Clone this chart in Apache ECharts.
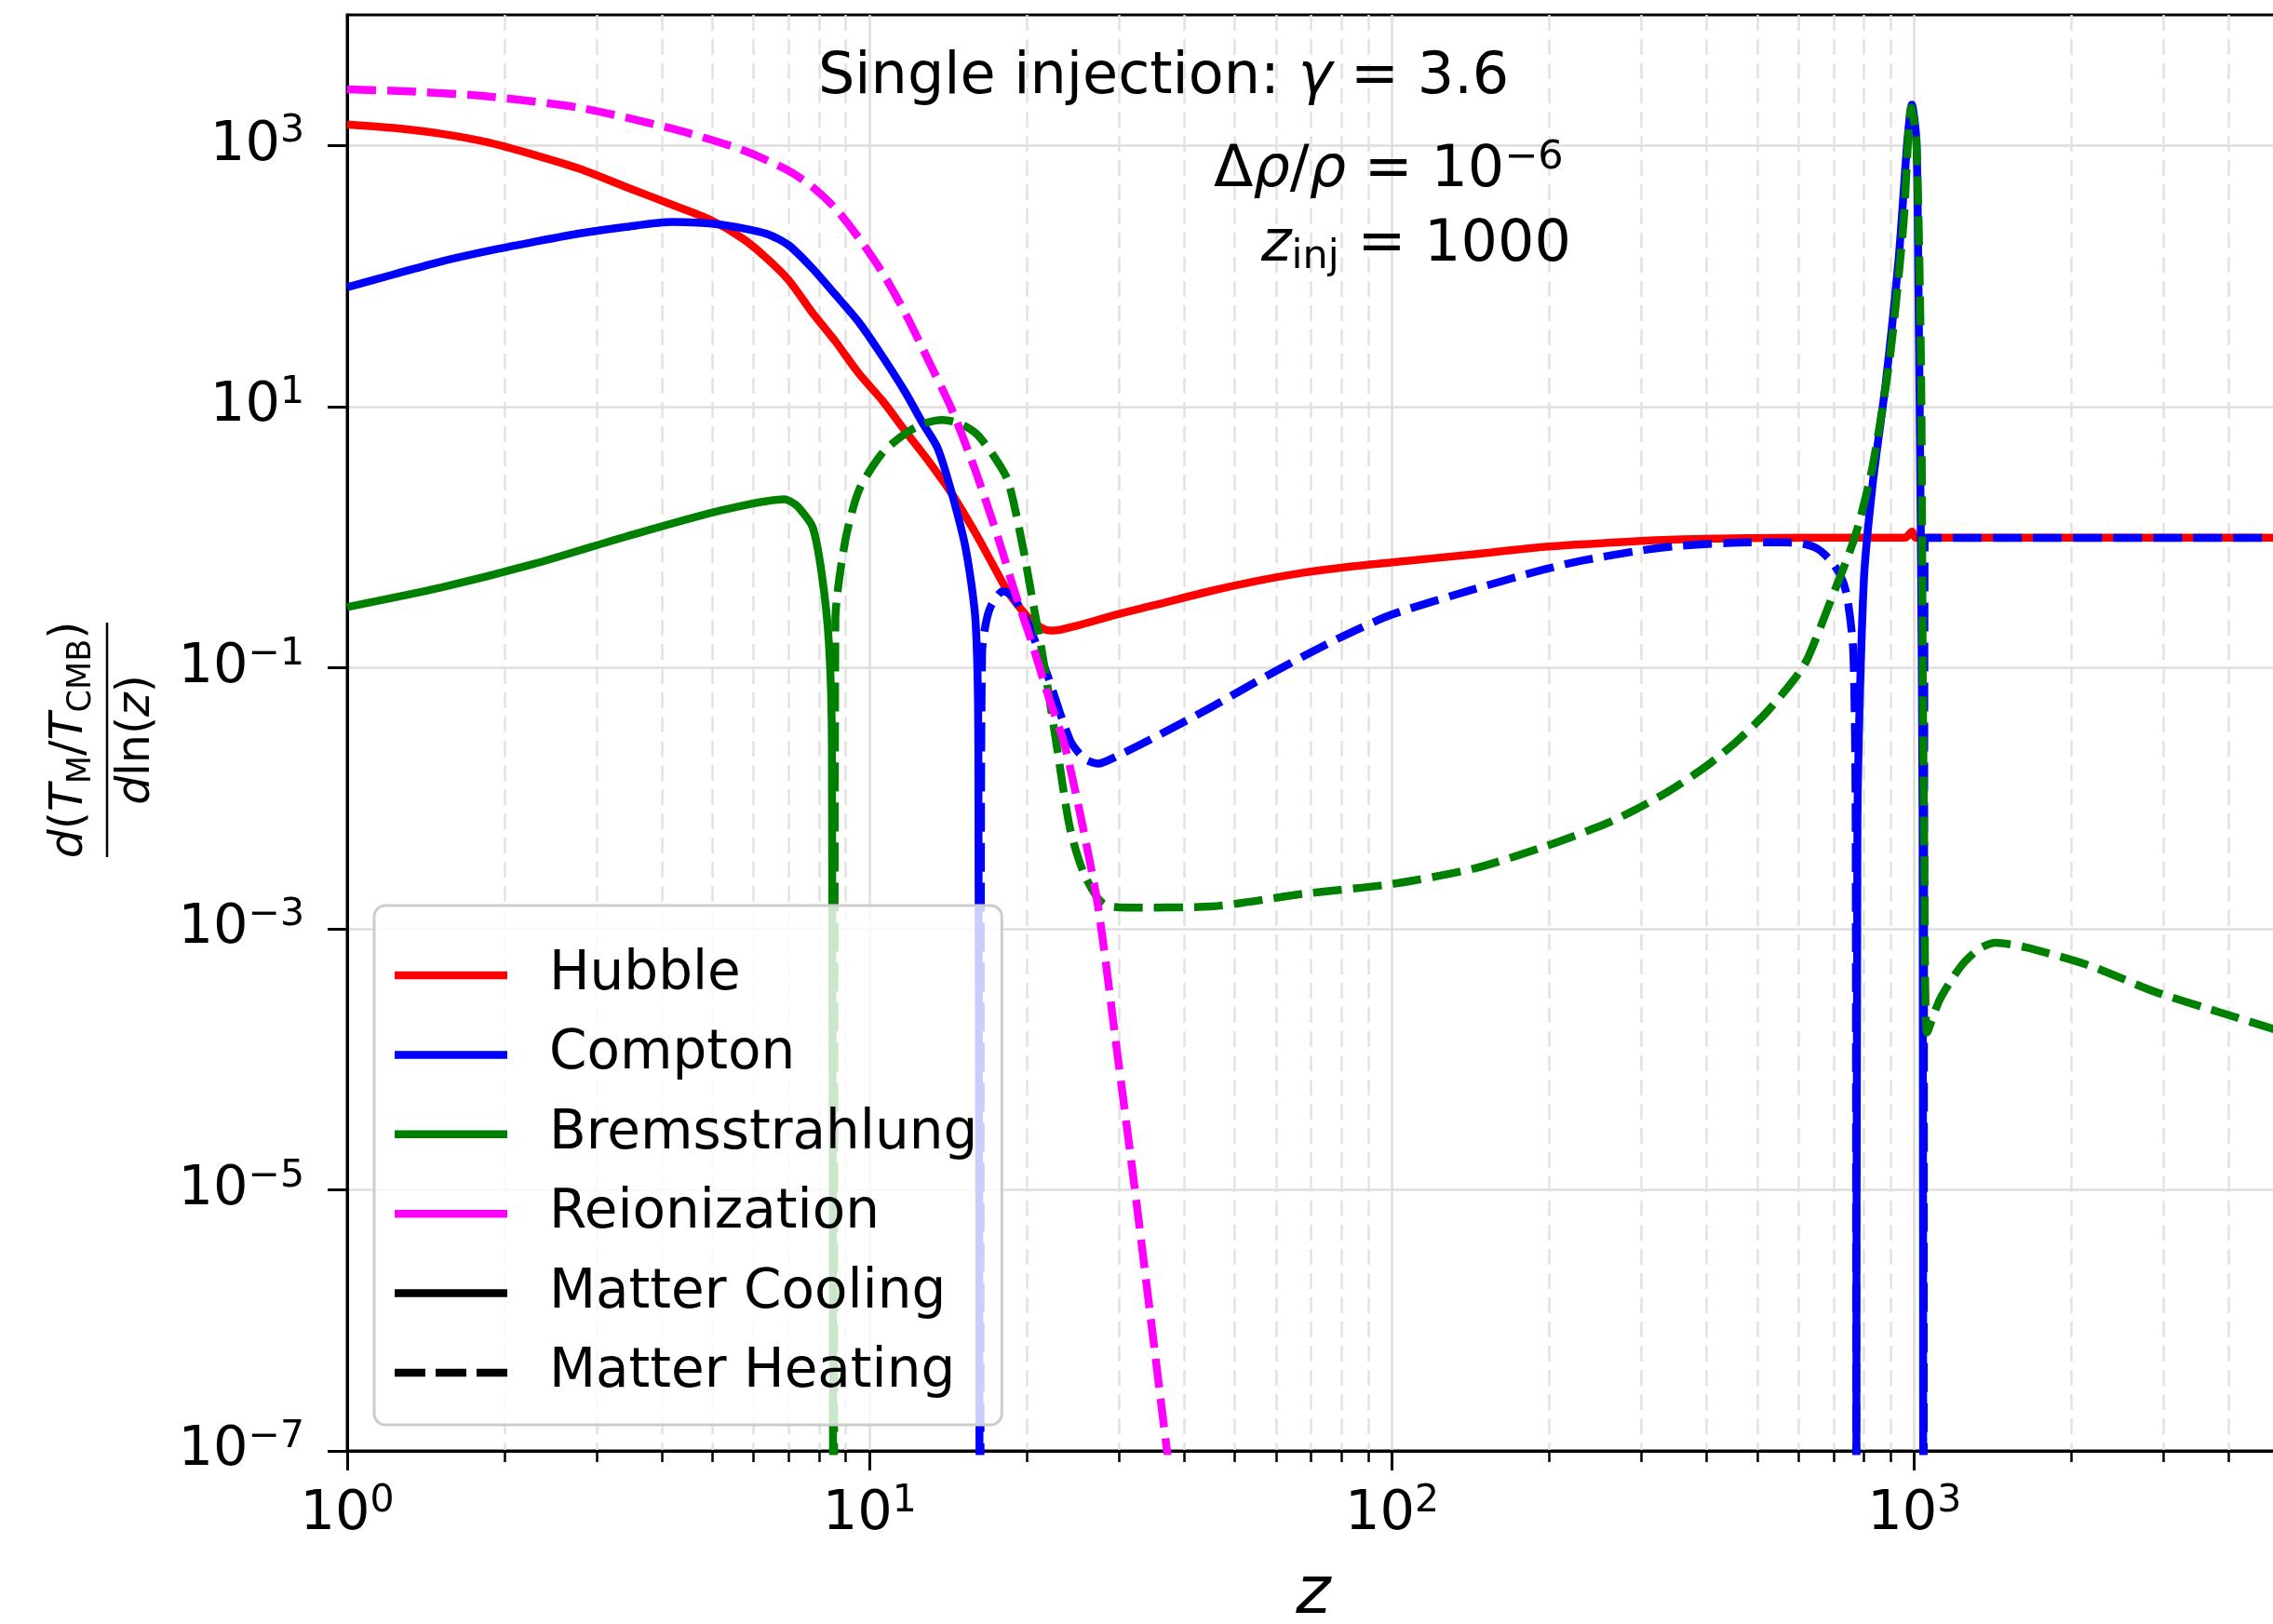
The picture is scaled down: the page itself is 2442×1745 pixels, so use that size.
<!DOCTYPE html>
<html>
<head>
<meta charset="utf-8">
<script src="https://cdn.jsdelivr.net/npm/echarts@6/dist/echarts.min.js"></script>
<style>
  html, body { margin: 0; padding: 0; background: #ffffff; }
  #chart { width: 2442px; height: 1745px; }
</style>
</head>
<body>
<div id="chart"></div>
<script>
// Tick positions
const xMajorTicks = [1, 10, 100, 1000];
const xMinorTicks = [2, 3, 4, 5, 6, 7, 8, 9,
                     20, 30, 40, 50, 60, 70, 80, 90,
                     200, 300, 400, 500, 600, 700, 800, 900,
                     2000, 3000, 4000, 5000];
const yMajorTicks = [1e-7, 1e-5, 1e-3, 1e-1, 1e1, 1e3];

// Curves: [z, d(T_M/T_CMB)/dln(z)]
const hubbleCooling = [
  [1, 1450], [1.23, 1360], [1.51, 1230], [1.85, 1060], [2.27, 850], [2.79, 660],
  [3.42, 480], [4.2, 350], [4.95, 270], [5.7, 195], [6.3, 141], [7.0, 93],
  [7.78, 52], [8.6, 31.6], [9.55, 17.8], [10.6, 11], [11.7, 6.5], [13.0, 3.77],
  [14.4, 2.12], [16.0, 1.05], [17.2, 0.62], [18.4, 0.38], [19.5, 0.28], [20.4, 0.23],
  [21.7, 0.195], [22.5, 0.192], [25, 0.21], [29.7, 0.255], [35, 0.30], [44.8, 0.385],
  [55, 0.46], [67.6, 0.533], [82, 0.59], [100, 0.64], [144, 0.74], [194, 0.84],
  [280, 0.92], [360, 0.96], [480, 0.98], [623, 0.99], [960, 0.99], [990, 1.1],
  [1005, 0.99], [5000, 0.99]
];

const comptonCoolingLow = [
  [1, 82], [1.23, 103], [1.51, 129], [1.85, 155], [2.27, 182], [2.79, 212],
  [3.42, 238], [4.2, 259], [5.16, 248], [6.34, 211], [7.0, 172], [7.78, 114],
  [8.6, 72], [9.55, 44], [10.6, 24], [11.7, 12.9], [12.6, 7.6], [13.5, 4.8],
  [14.4, 2.1], [15.3, 0.79], [15.95, 0.23], [16.15, 0.026], [16.25, 1e-9]
];
const comptonCoolingHigh = [
  [774, 1e-9], [778, 0.0065], [800, 0.45], [832, 2.54], [882, 15.5], [934, 142],
  [970, 1107], [989, 2050], [1009, 1100], [1018, 93], [1028, 1.55], [1037, 0.0065],
  [1040, 1e-9]
];

const comptonHeatingLow = [
  [16.3, 1e-9], [16.33, 1e-3], [16.42, 0.132], [16.7, 0.22], [17.1, 0.30], [18.0, 0.385],
  [18.75, 0.355], [20.1, 0.219], [21.9, 0.0877], [24.2, 0.0278], [25.8, 0.020],
  [27.4, 0.0184], [29.7, 0.0209], [35, 0.029], [44.9, 0.0493], [55, 0.078], [67.6, 0.122],
  [82, 0.18], [100, 0.255], [144, 0.40], [194, 0.56], [231, 0.66], [300, 0.79],
  [360, 0.86], [484, 0.91], [560, 0.91], [611, 0.89], [650, 0.82], [687, 0.68],
  [720, 0.52], [743, 0.355], [764, 0.132], [772, 0.0065], [774, 1e-9]
];
const comptonHeatingHigh = [
  [1042, 1e-9], [1046, 0.9], [1060, 0.985], [5000, 0.985]
];

const bremsCooling = [
  [1, 0.291], [1.51, 0.41], [2.27, 0.62], [3.42, 1.01], [5.16, 1.59], [6.88, 1.95],
  [7.05, 1.88], [7.3, 1.7], [7.78, 1.19], [8.1, 0.52], [8.36, 0.153], [8.47, 0.026],
  [8.52, 1e-9]
];

const bremsHeating = [
  [8.55, 1e-9], [8.6, 0.23], [8.98, 0.93], [9.55, 2.3], [10.6, 4.45], [11.7, 6.2],
  [12.7, 7.4], [13.8, 7.9], [14.9, 7.4], [16.0, 6.2], [17.2, 4.3], [18.4, 2.7],
  [19.7, 0.8], [20.5, 0.33], [21.4, 0.13], [22.8, 0.0257], [24.2, 0.00583],
  [25.8, 0.00257], [28.0, 0.00155], [31.0, 0.00145], [44.9, 0.00148], [67.6, 0.00185],
  [100, 0.0022], [144, 0.0029], [194, 0.0042], [255, 0.0063], [293, 0.0082],
  [341, 0.0115], [399, 0.0175], [456, 0.027], [520, 0.045], [587, 0.08], [623, 0.115],
  [686, 0.30], [771, 1.03], [832, 3.5], [899, 25], [953, 250], [986, 1950],
  [1009, 1100], [1030, 18], [1038, 0.065], [1045, 0.0038], [1058, 1.6e-4],
  [1120, 2.9e-4], [1230, 5.2e-4], [1330, 7.0e-4], [1430, 7.8e-4], [1633, 7.2e-4],
  [2170, 5.2e-4], [2880, 3.3e-4], [3830, 2.3e-4], [5000, 1.65e-4]
];

const reionHeating = [
  [1, 2690], [1.35, 2580], [1.85, 2380], [2.79, 1940], [4.2, 1340], [5.7, 925],
  [7.0, 640], [7.78, 480], [8.6, 330], [9.55, 194], [10.6, 105], [11.7, 52],
  [13.0, 22], [14.4, 9.3], [16.0, 3.1], [17.7, 0.93], [19.0, 0.37], [20.4, 0.16],
  [22.0, 0.06], [23.6, 0.026], [25.5, 0.0065], [27.4, 0.00145], [29.7, 1.23e-4],
  [32.3, 9.1e-6], [37.1, 1e-7], [40, 1e-8]
];

const legendNames = ['Hubble', 'Compton', 'Bremsstrahlung', 'Reionization',
                     'Matter Cooling', 'Matter Heating'];

const FONT = 'DejaVu Sans';
const RED = '#ff0000', BLUE = '#0000ff', GREEN = '#008000', MAGENTA = '#ff00ff';
const LW = 8.5;
const DASH = [31, 12];

function powerLabel(v) {
  const e = Math.round(Math.log10(v));
  return '{b|10}{s|' + (e < 0 ? '\u2212' + (-e) : e) + '}';
}
const tickRich = {
  b: { fontFamily: FONT, fontSize: 59, lineHeight: 70, color: '#000' },
  s: { fontFamily: FONT, fontSize: 41, lineHeight: 37, verticalAlign: 'top', color: '#000' }
};

function curve(name, data, color, dashed) {
  return {
    name: name, type: 'line', data: data, xAxisIndex: 0, yAxisIndex: 0,
    showSymbol: false, symbol: 'none', silent: true, clip: true,
    smooth: 0.25,
    lineStyle: { color: color, width: LW, type: dashed ? DASH : 'solid', cap: 'butt', join: 'round' },
    emphasis: { disabled: true }
  };
}
function legendEntry(name, color) {
  return {
    name: name, type: 'line', data: [], symbol: 'none',
    itemStyle: { color: color },
    lineStyle: { color: color, width: LW }
  };
}

// legend handles: a flat bar for solid lines, three short bars for dashed
const SOLID_ICON = 'rect';
const DASHED_ICON = 'path://M0,0H33V8.5H0Z M44,0H77V8.5H44Z M88,0H121V8.5H88Z';

const chart = echarts.init(document.getElementById('chart'), null, { renderer: 'canvas' });

const option = {
  backgroundColor: '#ffffff',
  animation: false,
  grid: {
    left: 373, top: 16, right: -7, bottom: 186,
    containLabel: false, outerBoundsMode: 'none',
    show: true, borderColor: '#000', borderWidth: 3, backgroundColor: 'transparent'
  },
  legend: {
    data: legendNames.map(function (n) {
      return { name: n, icon: n === 'Matter Heating' ? DASHED_ICON : SOLID_ICON };
    }),
    orient: 'vertical', left: 402, top: 973,
    itemWidth: 121, itemHeight: 8.5, itemGap: 23.4,
    padding: [44, 26, 25, 22],
    backgroundColor: 'rgba(255,255,255,0.8)',
    borderColor: '#cccccc', borderWidth: 3, borderRadius: 12,
    selectedMode: false,
    itemStyle: { borderWidth: 0 },
    textStyle: { fontFamily: FONT, fontSize: 58, lineHeight: 62, color: '#000', padding: [0, 0, 0, 40] }
  },
  xAxis: [
    {
      type: 'log', logBase: 10, min: 1, max: 5000, position: 'bottom',
      name: 'z', nameLocation: 'middle', nameGap: 120,
      nameTextStyle: { fontFamily: FONT, fontStyle: 'italic', fontSize: 71, color: '#000' },
      axisLine: { show: true, lineStyle: { color: '#000', width: 3 } },
      axisTick: { show: true, customValues: xMajorTicks, length: 21, lineStyle: { color: '#000', width: 3 } },
      axisLabel: { show: true, customValues: xMajorTicks, margin: 34, formatter: powerLabel, rich: tickRich },
      splitLine: { show: true, lineStyle: { color: '#dedede', width: 2.5, type: 'solid' } },
      minorTick: { show: false }, minorSplitLine: { show: false }
    },
    {
      type: 'log', logBase: 10, min: 1, max: 5000, position: 'bottom',
      axisLine: { show: false },
      axisTick: { show: true, customValues: xMinorTicks, length: 12, lineStyle: { color: '#000', width: 2.5 } },
      axisLabel: { show: false },
      splitLine: { show: true, lineStyle: { color: '#e2e2e2', width: 2.5, type: [17, 9] } }
    }
  ],
  yAxis: [
    {
      type: 'log', logBase: 10, min: 1e-7, max: 1e4,
      axisLine: { show: true, lineStyle: { color: '#000', width: 3 } },
      axisTick: { show: true, customValues: yMajorTicks, length: 21, lineStyle: { color: '#000', width: 3 } },
      axisLabel: { show: true, customValues: yMajorTicks, margin: 46, formatter: powerLabel, rich: tickRich },
      splitLine: { show: true, lineStyle: { color: '#dedede', width: 2.5, type: 'solid' } },
      minorTick: { show: false }, minorSplitLine: { show: false }
    }
  ],
  series: [
    curve('Hubble cooling', hubbleCooling, RED, false),
    curve('Compton cooling', comptonCoolingLow, BLUE, false),
    curve('Compton cooling (z_inj)', comptonCoolingHigh, BLUE, false),
    curve('Compton heating', comptonHeatingLow, BLUE, true),
    curve('Compton heating (z_inj)', comptonHeatingHigh, BLUE, true),
    curve('Bremsstrahlung cooling', bremsCooling, GREEN, false),
    curve('Bremsstrahlung heating', bremsHeating, GREEN, true),
    curve('Reionization heating', reionHeating, MAGENTA, true),
    legendEntry('Hubble', RED),
    legendEntry('Compton', BLUE),
    legendEntry('Bremsstrahlung', GREEN),
    legendEntry('Reionization', MAGENTA),
    legendEntry('Matter Cooling', '#000'),
    legendEntry('Matter Heating', '#000')
  ],
  graphic: [
    // annotation block
    {
      type: 'text', x: 879, y: 83.5, z: 50,
      style: {
        text: '{r|Single injection: }{i|\u03b3}{r| = 3.6}',
        verticalAlign: 'middle', align: 'left',
        rich: {
          r: { fontFamily: FONT, fontSize: 62, lineHeight: 70, color: '#000' },
          i: { fontFamily: FONT, fontStyle: 'italic', fontSize: 62, lineHeight: 70, color: '#000' }
        }
      }
    },
    {
      type: 'text', x: 1304, y: 183.5, z: 50,
      style: {
        text: '{r|\u0394}{i|\u03c1}{r|/}{i|\u03c1}{r| = 10}{s|\u22126}',
        verticalAlign: 'middle', align: 'left',
        rich: {
          r: { fontFamily: FONT, fontSize: 62, lineHeight: 70, color: '#000' },
          i: { fontFamily: FONT, fontStyle: 'italic', fontSize: 62, lineHeight: 70, color: '#000' },
          s: { fontFamily: FONT, fontSize: 43, lineHeight: 40, verticalAlign: 'top', color: '#000' }
        }
      }
    },
    {
      type: 'text', x: 1355, y: 263.5, z: 50,
      style: {
        text: '{i|z}{sub|inj}{r| = 1000}',
        verticalAlign: 'middle', align: 'left',
        rich: {
          r: { fontFamily: FONT, fontSize: 62, lineHeight: 70, color: '#000' },
          i: { fontFamily: FONT, fontStyle: 'italic', fontSize: 62, lineHeight: 70, color: '#000' },
          sub: { fontFamily: FONT, fontSize: 43, lineHeight: 37, verticalAlign: 'bottom', color: '#000' }
        }
      }
    },
    // y-axis title: d(T_M/T_CMB) / dln(z), rotated
    {
      type: 'group', x: 115, y: 795, rotation: Math.PI / 2, z: 50,
      children: [
        {
          type: 'line', shape: { x1: -126, y1: 0, x2: 126, y2: 0 },
          style: { stroke: '#000', lineWidth: 2.5 }
        },
        {
          type: 'text', x: 0, y: -40,
          style: {
            text: '{i|d}{r|(}{i|T}{sub|M}{r|/}{i|T}{sub|CMB}{r|)}',
            align: 'center', verticalAlign: 'middle',
            rich: {
              r: { fontFamily: FONT, fontSize: 49, lineHeight: 60, color: '#000' },
              i: { fontFamily: FONT, fontStyle: 'italic', fontSize: 49, lineHeight: 60, color: '#000' },
              sub: { fontFamily: FONT, fontSize: 35, lineHeight: 40, verticalAlign: 'bottom', color: '#000' }
            }
          }
        },
        {
          type: 'text', x: 0, y: 32,
          style: {
            text: '{i|d}{r|ln(}{i|z}{r|)}',
            align: 'center', verticalAlign: 'middle',
            rich: {
              r: { fontFamily: FONT, fontSize: 49, lineHeight: 60, color: '#000' },
              i: { fontFamily: FONT, fontStyle: 'italic', fontSize: 49, lineHeight: 60, color: '#000' }
            }
          }
        }
      ]
    }
  ]
};

chart.setOption(option);
</script>
</body>
</html>
